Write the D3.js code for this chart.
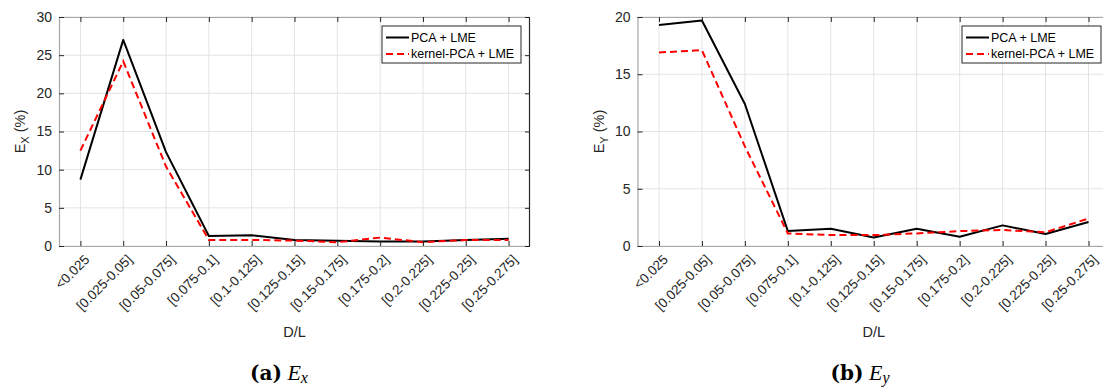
<!DOCTYPE html>
<html>
<head>
<meta charset="utf-8">
<script src="https://cdn.jsdelivr.net/npm/d3@7"></script>
<style>
  body { margin: 0; background: #fff; }
  svg { display: block; }
  .tick text { fill: #262626; }
</style>
</head>
<body>
<div id="chart"></div>
<script>
const categories = ['<0.025', '[0.025-0.05]', '[0.05-0.075]', '[0.075-0.1]', '[0.1-0.125]',
  '[0.125-0.15]', '[0.15-0.175]', '[0.175-0.2]', '[0.2-0.225]', '[0.225-0.25]', '[0.25-0.275]']

const exPCA = [8.7, 27.0, 12.3, 1.3, 1.4, 0.8, 0.7, 0.6, 0.6, 0.8, 0.95]
const exKPCA = [12.5, 24.2, 10.4, 0.8, 0.8, 0.7, 0.5, 1.1, 0.5, 0.8, 0.8]
const eyPCA = [19.3, 19.7, 12.4, 1.3, 1.5, 0.75, 1.5, 0.8, 1.8, 1.05, 2.1]
const eyKPCA = [16.9, 17.1, 8.7, 1.1, 0.95, 0.95, 1.1, 1.3, 1.4, 1.2, 2.4]

const exTicks = [0, 5, 10, 15, 20, 25, 30]
const eyTicks = [0, 5, 10, 15, 20]

const seriesNames = ['PCA + LME', 'kernel-PCA + LME']

const width = 1103, height = 387
const font = 'Arial, "Liberation Sans", sans-serif'

const svg = d3.select('#chart')
  .append('svg')
  .attr('width', width)
  .attr('height', height)
  .style('font-family', font)

svg.append('rect').attr('width', width).attr('height', height).attr('fill', '#fff')

function drawPanel({ left, right, top, bottom, pca, kpca, ticks, yLabelSub, caption, captionSub, captionX }) {
  const x = d3.scalePoint().domain(categories).range([left, right]).padding(0.5)
  const y = d3.scaleLinear().domain([0, d3.max(ticks)]).range([bottom, top])

  const g = svg.append('g')

  // grid
  const grid = g.append('g').attr('stroke', '#e3e3e3').attr('stroke-width', 1)
  grid.selectAll('.gx').data(categories).join('line')
    .attr('x1', d => x(d)).attr('x2', d => x(d))
    .attr('y1', top).attr('y2', bottom)
  grid.selectAll('.gy').data(ticks).join('line')
    .attr('x1', left).attr('x2', right)
    .attr('y1', d => y(d)).attr('y2', d => y(d))

  // series
  const line = d3.line().x((d, i) => x(categories[i])).y(d => y(d))

  g.append('path')
    .datum(pca)
    .attr('fill', 'none')
    .attr('stroke', '#000')
    .attr('stroke-width', 2)
    .attr('stroke-linejoin', 'round')
    .attr('d', line)

  g.append('path')
    .datum(kpca)
    .attr('fill', 'none')
    .attr('stroke', '#ff0000')
    .attr('stroke-width', 2)
    .attr('stroke-dasharray', '7,4')
    .attr('d', line)

  // box
  const box = g.append('g').attr('stroke-width', 1.2)
  box.append('line').attr('x1', left).attr('x2', right).attr('y1', top + 0.5).attr('y2', top + 0.5).attr('stroke', '#a6a6a6')
  box.append('line').attr('x1', left).attr('x2', right).attr('y1', bottom + 0.5).attr('y2', bottom + 0.5).attr('stroke', '#a6a6a6')
  box.append('line').attr('x1', left + 0.5).attr('x2', left + 0.5).attr('y1', top).attr('y2', bottom).attr('stroke', '#a6a6a6')
  box.append('line').attr('x1', right - 0.5).attr('x2', right - 0.5).attr('y1', top).attr('y2', bottom).attr('stroke', '#262626')

  // axes, ticks pointing inward
  g.append('g')
    .attr('transform', `translate(${left},0)`)
    .call(d3.axisLeft(y).tickValues(ticks).tickSize(-5).tickPadding(7))
    .call(a => a.select('.domain').remove())
    .call(a => a.selectAll('line').attr('stroke', '#262626'))
    .call(a => a.selectAll('text').attr('font-size', 14).attr('font-family', font))

  g.append('g')
    .attr('transform', `translate(${right},0)`)
    .call(d3.axisRight(y).tickValues(ticks).tickSize(-5).tickFormat(''))
    .call(a => a.select('.domain').remove())
    .call(a => a.selectAll('line').attr('stroke', '#262626'))

  g.append('g')
    .attr('transform', `translate(0,${top})`)
    .call(d3.axisTop(x).tickSize(-5).tickFormat(''))
    .call(a => a.select('.domain').remove())
    .call(a => a.selectAll('line').attr('stroke', '#262626'))

  g.append('g')
    .attr('transform', `translate(0,${bottom})`)
    .call(d3.axisBottom(x).tickSize(-5).tickPadding(0))
    .call(a => a.select('.domain').remove())
    .call(a => a.selectAll('line').attr('stroke', '#262626'))
    .call(a => a.selectAll('text')
      .attr('font-size', 13.5)
      .attr('font-family', font)
      .attr('text-anchor', 'end')
      .attr('y', 0)
      .attr('dy', '0.35em')
      .attr('transform', 'translate(6,11) rotate(-45)'))

  // axis labels
  const yl = g.append('text')
    .attr('transform', `translate(${left - 34},${(top + bottom) / 2}) rotate(-90)`)
    .attr('text-anchor', 'middle')
    .attr('font-size', 14.5)
    .attr('fill', '#262626')
  yl.append('tspan').text('E')
  yl.append('tspan').attr('font-size', 11).attr('dy', 4).text(yLabelSub)
  yl.append('tspan').attr('dy', -4).text(' (%)')

  g.append('text')
    .attr('x', (left + right) / 2)
    .attr('y', 337)
    .attr('text-anchor', 'middle')
    .attr('font-size', 14.5)
    .attr('fill', '#262626')
    .text('D/L')

  // legend
  const lw = 139, lh = 37
  const lx = right - 9 - lw, ly = top + 9
  const legend = g.append('g').attr('transform', `translate(${lx},${ly})`)
  legend.append('rect')
    .attr('width', lw).attr('height', lh)
    .attr('fill', '#fff').attr('stroke', '#262626').attr('stroke-width', 1)
  const items = [
    { name: seriesNames[0], color: '#000', dash: null },
    { name: seriesNames[1], color: '#ff0000', dash: '7,4' }
  ]
  const row = legend.selectAll('.item').data(items).join('g')
    .attr('transform', (d, i) => `translate(0,${11.5 + i * 16.5})`)
  row.append('line')
    .attr('x1', 4).attr('x2', 27)
    .attr('stroke', d => d.color)
    .attr('stroke-width', 2)
    .attr('stroke-dasharray', d => d.dash)
  row.append('text')
    .attr('x', 29)
    .attr('dy', '0.35em')
    .attr('font-size', 12.5)
    .attr('fill', '#000')
    .text(d => d.name)

  // caption
  const cap = svg.append('text')
    .attr('x', captionX)
    .attr('y', 380)
    .attr('text-anchor', 'middle')
    .attr('font-family', '"DejaVu Serif", "Liberation Serif", serif')
    .attr('font-size', 20)
    .attr('fill', '#000')
  cap.append('tspan').attr('font-weight', 'bold').text(caption)
  cap.append('tspan').attr('font-style', 'italic').attr('font-family', '"Liberation Serif", serif').attr('font-size', 22).text(' E')
  cap.append('tspan').attr('font-style', 'italic').attr('font-family', '"Liberation Serif", serif').attr('font-size', 16).attr('dy', 3).text(captionSub)
}

drawPanel({
  left: 59, right: 530, top: 17, bottom: 246,
  pca: exPCA, kpca: exKPCA, ticks: exTicks,
  yLabelSub: 'X', caption: '(a)', captionSub: 'x', captionX: 279
})

drawPanel({
  left: 637.5, right: 1110, top: 17, bottom: 246,
  pca: eyPCA, kpca: eyKPCA, ticks: eyTicks,
  yLabelSub: 'Y', caption: '(b)', captionSub: 'y', captionX: 860
})
</script>
</body>
</html>
